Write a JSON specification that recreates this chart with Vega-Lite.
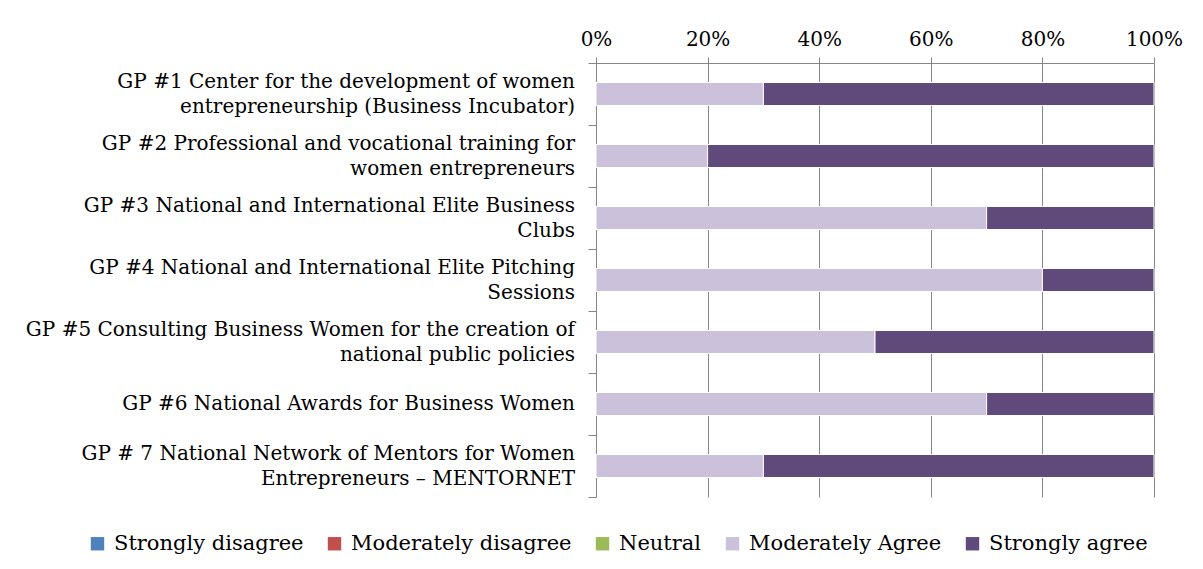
{
  "$schema": "https://vega.github.io/schema/vega-lite/v6.json",
  "width": 558,
  "height": 434,
  "autosize": {"type": "none"},
  "padding": {"left": 596, "top": 63, "right": 49, "bottom": 72},
  "background": "white",
  "data": {
    "values": [
      {"practice": "GP #1 Center for the development of women|entrepreneurship (Business Incubator)", "lines": 2, "response": "Moderately Agree", "share": 30, "rank": 4},
      {"practice": "GP #1 Center for the development of women|entrepreneurship (Business Incubator)", "lines": 2, "response": "Strongly agree", "share": 70, "rank": 5},
      {"practice": "GP #2 Professional and vocational training for|women entrepreneurs", "lines": 2, "response": "Moderately Agree", "share": 20, "rank": 4},
      {"practice": "GP #2 Professional and vocational training for|women entrepreneurs", "lines": 2, "response": "Strongly agree", "share": 80, "rank": 5},
      {"practice": "GP #3  National and International Elite Business|Clubs", "lines": 2, "response": "Moderately Agree", "share": 70, "rank": 4},
      {"practice": "GP #3  National and International Elite Business|Clubs", "lines": 2, "response": "Strongly agree", "share": 30, "rank": 5},
      {"practice": "GP #4 National and International Elite Pitching|Sessions", "lines": 2, "response": "Moderately Agree", "share": 80, "rank": 4},
      {"practice": "GP #4 National and International Elite Pitching|Sessions", "lines": 2, "response": "Strongly agree", "share": 20, "rank": 5},
      {"practice": "GP #5 Consulting Business Women for the creation of|national public policies", "lines": 2, "response": "Moderately Agree", "share": 50, "rank": 4},
      {"practice": "GP #5 Consulting Business Women for the creation of|national public policies", "lines": 2, "response": "Strongly agree", "share": 50, "rank": 5},
      {"practice": "GP #6 National Awards for Business Women", "lines": 1, "response": "Moderately Agree", "share": 70, "rank": 4},
      {"practice": "GP #6 National Awards for Business Women", "lines": 1, "response": "Strongly agree", "share": 30, "rank": 5},
      {"practice": "GP # 7 National Network of Mentors for Women|Entrepreneurs – MENTORNET", "lines": 2, "response": "Moderately Agree", "share": 30, "rank": 4},
      {"practice": "GP # 7 National Network of Mentors for Women|Entrepreneurs – MENTORNET", "lines": 2, "response": "Strongly agree", "share": 70, "rank": 5}
    ]
  },
  "layer": [
    {
      "mark": {"type": "bar", "size": 23, "stroke": "white", "strokeWidth": 1},
      "encoding": {
        "y": {
          "field": "practice",
          "type": "nominal",
          "sort": null,
          "scale": {"paddingInner": 0, "paddingOuter": 0},
          "axis": {
            "title": null,
            "labels": false,
            "tickBand": "extent",
            "tickSize": 8,
            "tickColor": "#868686",
            "domainColor": "#868686",
            "grid": false
          }
        },
        "x": {
          "field": "share",
          "type": "quantitative",
          "stack": "normalize",
          "scale": {"domain": [0, 1]},
          "axis": {
            "orient": "top",
            "format": ".0%",
            "values": [0, 0.2, 0.4, 0.6, 0.8, 1],
            "title": null,
            "labelFontSize": 20,
            "labelColor": "#000000",
            "labelPadding": 8,
            "labelFlush": false,
            "tickSize": 6,
            "tickColor": "#868686",
            "domainColor": "#868686",
            "grid": true,
            "gridColor": "#868686"
          }
        },
        "color": {
          "field": "response",
          "type": "nominal",
          "scale": {
            "domain": ["Strongly disagree", "Moderately disagree", "Neutral", "Moderately Agree", "Strongly agree"],
            "range": ["#4F81BD", "#C0504D", "#9BBB59", "#CCC1DA", "#604A7B"]
          },
          "legend": {
            "orient": "none",
            "legendX": -509,
            "legendY": 470,
            "direction": "horizontal",
            "columns": 5,
            "title": null,
            "symbolType": "square",
            "symbolSize": 180,
            "symbolStrokeWidth": 0,
            "labelFontSize": 21,
            "labelLimit": 400,
            "labelColor": "#000000",
            "labelOffset": 6,
            "columnPadding": 20
          }
        },
        "order": {"field": "rank", "type": "quantitative"}
      }
    },
    {
      "transform": [{"filter": "datum.rank == 5 && datum.lines == 2"}],
      "mark": {"type": "text", "align": "right", "baseline": "middle", "dx": -21, "dy": -12, "lineBreak": "|", "lineHeight": 25, "fontSize": 20, "color": "#000000"},
      "encoding": {
        "y": {"field": "practice", "type": "nominal", "sort": null},
        "x": {"datum": 0, "type": "quantitative"},
        "text": {"field": "practice"}
      }
    },
    {
      "transform": [{"filter": "datum.rank == 5 && datum.lines == 1"}],
      "mark": {"type": "text", "align": "right", "baseline": "middle", "dx": -21, "lineBreak": "|", "lineHeight": 25, "fontSize": 20, "color": "#000000"},
      "encoding": {
        "y": {"field": "practice", "type": "nominal", "sort": null},
        "x": {"datum": 0, "type": "quantitative"},
        "text": {"field": "practice"}
      }
    }
  ],
  "config": {"view": {"stroke": null}, "font": "DejaVu Serif"}
}
